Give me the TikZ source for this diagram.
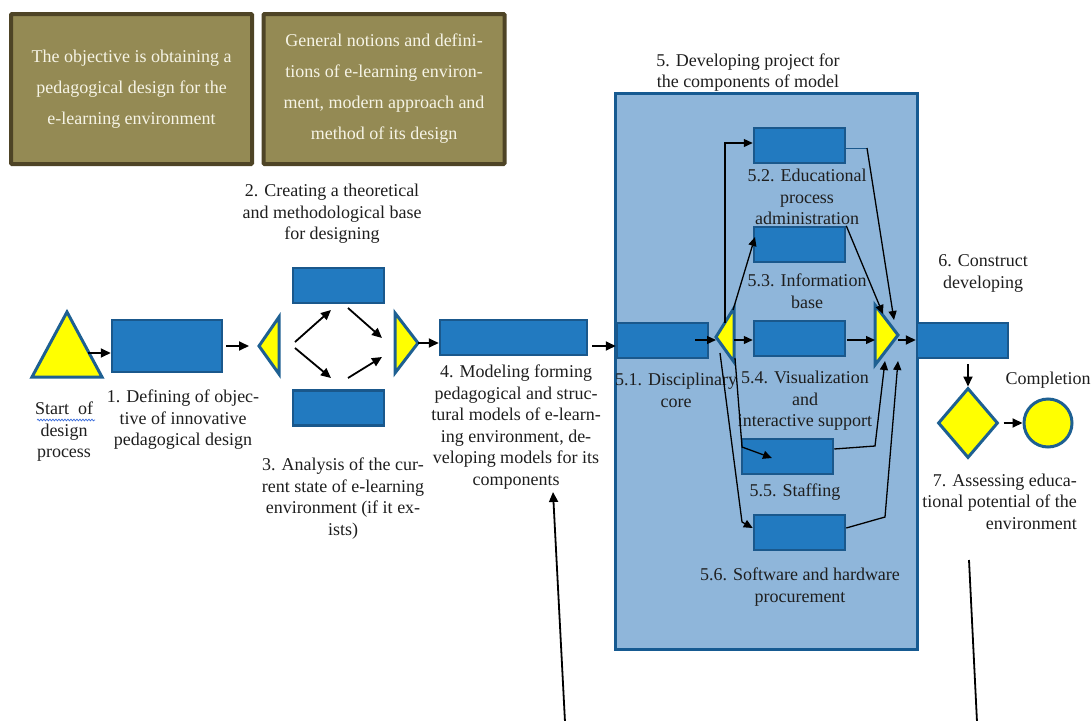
\documentclass[tikz,border=0pt]{standalone}
\usepackage{fontspec}
\setmainfont{Liberation Serif}
\usetikzlibrary{arrows.meta,shapes.geometric,calc,decorations.pathmorphing}
\definecolor{boxblue}{RGB}{34,122,192}
\definecolor{boxedge}{RGB}{26,88,140}
\definecolor{panel}{RGB}{143,182,218}
\definecolor{paneledge}{RGB}{22,90,145}
\definecolor{triedge}{RGB}{30,96,146}
\definecolor{olive}{RGB}{148,138,84}
\definecolor{oliveedge}{RGB}{78,68,38}
\definecolor{cream}{RGB}{246,244,230}
\definecolor{txt}{RGB}{30,30,30}
\definecolor{yel}{RGB}{255,255,0}
\definecolor{squig}{RGB}{60,110,220}
\begin{document}
\begin{tikzpicture}[x=1pt,y=-1pt,
  box/.style={draw=boxedge, fill=boxblue, line width=2.5pt, minimum width=91pt, minimum height=35pt, inner sep=0pt},
  olivebox/.style={draw=oliveedge, fill=olive, line width=4pt, rounded corners=1pt, minimum width=241pt, minimum height=150pt, inner sep=0pt, align=center, text=cream, font=\fontsize{18}{31}\selectfont},
  lbl/.style={font=\fontsize{18}{21.5}\selectfont, text=txt, align=center, inner sep=0pt},
  arr/.style={-{Triangle[length=10pt,width=9pt]}, line width=1.8pt, black},
  iarr/.style={-{Triangle[length=9pt,width=8pt]}, line width=1.3pt, black},
  tri/.style={draw=triedge, fill=yel, line width=3pt, line join=miter},
  yelshape/.style={draw=triedge, fill=yel, line width=3pt, inner sep=0pt}
]
\useasboundingbox (0,0) rectangle (1092,720);

% top boxes
\node[olivebox] (obj) at (131.5,89) {The objective is obtaining a\\pedagogical design for the\\e-learning environment};
\node[olivebox] (gen) at (384,89) {General notions and defini-\\tions of e-learning environ-\\ment, modern approach and\\method of its design};

% big panel 5
\node[draw=paneledge, fill=panel, line width=3pt, minimum width=302pt, minimum height=556pt, inner sep=0pt] (p5) at (766,371) {};
\node[lbl] (l5) at (748,72.5) {5. Developing project for\\the components of model};

% start triangle
\coordinate (stA) at (67,312);
\coordinate (stR) at (102,377);
\coordinate (stL) at (32,377);
\draw[tri] (stA) -- (stR) -- (stL) -- cycle;
\coordinate (stOut) at (88,353);

% process boxes
\node[box, minimum width=110pt, minimum height=52pt] (b1) at (167,346) {};
\node[box] (b2) at (338.5,285.5) {};
\node[box] (b3) at (338.5,408) {};
\node[box, minimum width=147pt] (b4) at (513.5,337.5) {};
\node[box] (b51) at (662.5,340.5) {};
\node[box] (b52) at (799.5,145.5) {};
\node[box] (b53) at (799.5,244.5) {};
\node[box] (b54) at (799.5,338.5) {};
\node[box] (b55) at (787.5,456.5) {};
\node[box] (b56) at (799.5,532.5) {};
\node[box] (b6) at (962.5,340.5) {};

% gateway triangles
\coordinate (t1tip) at (259,346);
\coordinate (t1top) at (279,317);
\coordinate (t1bot) at (279,374);
\draw[tri] (t1tip) -- (t1top) -- (t1bot) -- cycle;
\coordinate (t2top) at (395,313);
\coordinate (t2bot) at (395,373);
\coordinate (t2tip) at (418,343);
\draw[tri] (t2top) -- (t2tip) -- (t2bot) -- cycle;
\coordinate (sptip) at (716,337);
\coordinate (sptop) at (734,308);
\coordinate (spbot) at (734,362);
\draw[tri] (sptip) -- (sptop) -- (spbot) -- cycle;
\coordinate (mgtop) at (875,305);
\coordinate (mgbot) at (875,365);
\coordinate (mgtip) at (898,335);
\draw[tri] (mgtop) -- (mgtip) -- (mgbot) -- cycle;

% end shapes
\node[diamond, yelshape, minimum width=60pt, minimum height=70pt] (dia) at (968,423) {};
\node[circle, yelshape, minimum size=48pt] (endc) at (1048,423) {};

% labels
\node[lbl] (lst) at (64,432) {Start~~of\\design\\process};
\draw[squig, line width=0.7pt, decorate, decoration={snake, amplitude=0.9pt, segment length=3pt}] (37,420) -- (95,420);
\node[lbl] (l1) at (183,420) {1. Defining of objec-\\tive of innovative\\pedagogical design};
\node[lbl] (l2) at (332,214) {2. Creating a theoretical\\and methodological base\\for designing};
\node[lbl] (l3) at (343,498.5) {3. Analysis of the cur-\\rent state of e-learning\\environment (if it ex-\\ists)};
\node[lbl] (l4) at (516,427) {4. Modeling forming\\pedagogical and struc-\\tural models of e-learn-\\ing environment, de-\\veloping models for its\\components};
\node[lbl] (l51) at (676,390.5) {5.1. Disciplinary\\core};
\node[lbl] (l52) at (807,197) {5.2. Educational\\process\\administration};
\node[lbl] (l53) at (807,291) {5.3. Information\\base};
\node[lbl] (l54) at (805,401) {5.4. Visualization\\and\\interactive support};
\node[lbl] (l55) at (795,492) {5.5. Staffing};
\node[lbl] (l56) at (800,587) {5.6. Software and hardware\\procurement};
\node[lbl] (l6) at (983,273.5) {6. Construct\\developing};
\node[lbl] (lc) at (1048,380) {Completion};
\node[lbl, align=right, anchor=east] (l7) at (1077,501.5) {7. Assessing educa-\\tional potential of the\\environment};

% main flow connectors
\draw[arr] (stOut) -- (stOut -| b1.west);
\draw[arr, shorten <=3pt, shorten >=10pt] (b1.east |- t1tip) -- (t1tip);
\coordinate (d1a) at (295,342); \coordinate (d1b) at (331,310);
\coordinate (d2a) at (295,348); \coordinate (d2b) at (331,378);
\coordinate (d3a) at (348,308); \coordinate (d3b) at (382,338);
\coordinate (d4a) at (348,378); \coordinate (d4b) at (382,357);
\draw[arr] (d1a) -- (d1b);
\draw[arr] (d2a) -- (d2b);
\draw[arr] (d3a) -- (d3b);
\draw[arr] (d4a) -- (d4b);
\draw[arr] (t2tip) -- (t2tip -| b4.west);
\coordinate (a4) at (592,346);
\draw[arr] (a4) -- (a4 -| b51.west);

% inside panel 5
\coordinate (a51) at (695,340);
\draw[iarr] (a51) -- (a51 -| sptip);
\coordinate (spR) at (734,340);
\draw[iarr] (spR) -- (spR -| b54.west);
\coordinate (a54) at (847,340);
\draw[iarr] (a54) -- (a54 -| mgtop);
\coordinate (mgOut) at (898,340);
\draw[arr] (mgOut) -- (mgOut -| b6.west);

\coordinate (spUp) at (725,323);
\draw[iarr] (spUp) |- (b52.west |- 0,143);
\coordinate (sp53) at (733,310);
\coordinate (e53) at (755,237);
\draw[iarr] (sp53) -- (e53);
\coordinate (sp55) at (735,358);
\coordinate (k55) at (742,447);
\coordinate (e55) at (772,458);
\draw[iarr] (sp55) -- (k55) -- (e55);
\coordinate (sp56) at (720,353);
\coordinate (k56) at (742,522);
\draw[iarr] (sp56) -- (k56) -- (b56.west |- 0,528);

\coordinate (k52) at (867,148);
\coordinate (e52) at (894,320);
\draw[boxedge, line width=1pt] (b52.east |- k52) -- (k52);
\draw[iarr] (k52) -- (e52);
\coordinate (e53m) at (883,314);
\draw[iarr] (b53.north east) -- (e53m);
\coordinate (k55m) at (875,446);
\coordinate (e55m) at (885,361);
\draw[iarr] (b55.east |- 0,449) -- (k55m) -- (e55m);
\coordinate (k56m) at (885,517);
\coordinate (e56m) at (898,361);
\draw[iarr] (b56.east |- 0,528) -- (k56m) -- (e56m);

% end of flow
\draw[arr, shorten <=5pt] (b6.south -| dia) -- (dia.north);
\draw[arr, shorten <=4pt] (dia.east) -- (endc.west);

% loose connectors at the bottom
\coordinate (f1) at (565,722);
\coordinate (f1tip) at (553,492);
\draw[arr] (f1) -- (f1tip);
\coordinate (f2a) at (969,560);
\coordinate (f2b) at (977,722);
\draw[line width=1.8pt] (f2a) -- (f2b);
\end{tikzpicture}
\end{document}
